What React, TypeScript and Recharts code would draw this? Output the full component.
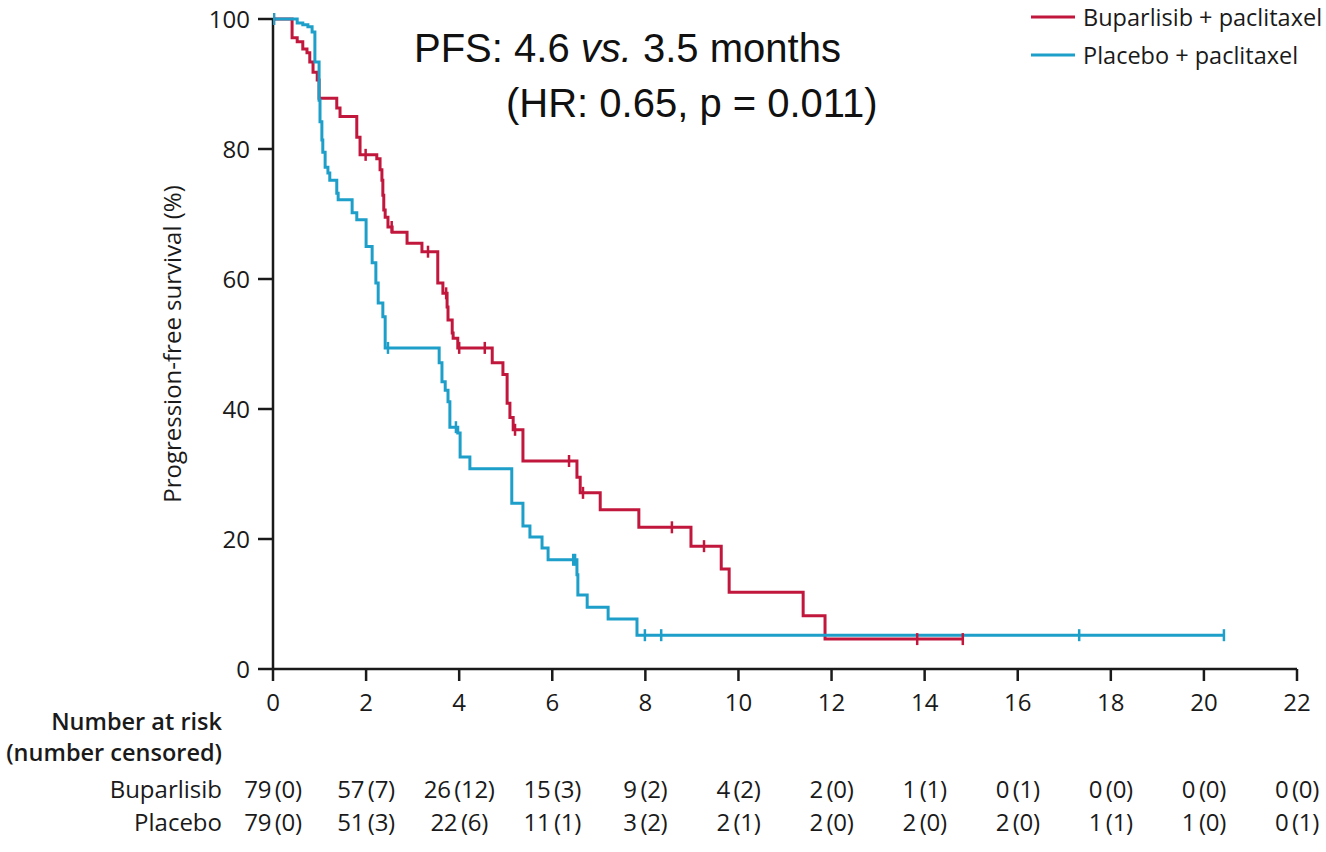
import { ComposedChart, Line, Scatter, XAxis, YAxis } from "recharts";

// full-bleed page, no scrollbars
document.documentElement.style.overflow = "hidden";
document.body.style.margin = "0";

const FONT = '"Open Sans", "Noto Sans", sans-serif';
const TITLE_FONT = '"Liberation Sans", Arial, sans-serif';
const RED = "#c2173d";
const BLUE = "#1d9fca";
const INK = "#1a1a1a";

// Kaplan-Meier steps: [months, % progression-free]
const buparlisibCurve: [number, number][] = [
  [0, 100], [0.41, 97.1], [0.52, 96.5], [0.64, 95.4], [0.73, 94.8], [0.79, 93.4],
  [0.86, 91.8], [0.95, 90.6], [0.99, 87.8], [1.37, 86.3], [1.44, 85.0], [1.8, 81.8],
  [1.87, 79.1], [2.23, 78.5], [2.3, 76.8], [2.34, 75.2], [2.36, 72.9], [2.38, 70.6],
  [2.41, 69.5], [2.47, 68.0], [2.56, 67.2], [2.88, 65.5], [3.2, 64.2], [3.54, 59.4],
  [3.65, 57.8], [3.74, 55.7], [3.76, 53.7], [3.85, 51.7], [3.87, 50.9], [3.97, 49.4],
  [4.71, 47.1], [4.94, 45.3], [5.03, 40.9], [5.09, 38.7], [5.16, 36.8], [5.37, 32.0],
  [6.53, 29.5], [6.6, 27.1], [7.03, 24.5], [7.86, 21.8], [8.98, 18.9], [9.63, 15.4],
  [9.8, 11.8], [11.39, 8.2], [11.86, 4.6], [14.82, 4.6],
];

const placeboCurve: [number, number][] = [
  [0, 100], [0.52, 99.4], [0.64, 99.1], [0.75, 98.8], [0.84, 98.0], [0.9, 93.4],
  [0.99, 87.5], [1.01, 84.2], [1.05, 81.4], [1.07, 79.5], [1.12, 77.2], [1.18, 76.3],
  [1.22, 75.2], [1.37, 73.2], [1.4, 72.2], [1.7, 70.2], [1.8, 69.1], [2.0, 65.0],
  [2.13, 62.5], [2.21, 59.4], [2.26, 56.3], [2.36, 54.2], [2.41, 49.4], [3.57, 47.1],
  [3.63, 44.2], [3.7, 42.9], [3.76, 41.1], [3.8, 37.2], [3.97, 36.3], [4.02, 32.6],
  [4.23, 30.8], [5.13, 25.5], [5.37, 22.0], [5.52, 20.3], [5.78, 18.6], [5.91, 16.8],
  [6.53, 14.5], [6.55, 11.4], [6.75, 9.5], [7.2, 7.7], [7.82, 5.2], [20.43, 5.2],
];

// censoring times (months)
const buparlisibCensored = [0.02, 1.99, 2.55, 3.33, 3.72, 4.0, 4.55, 5.2, 6.36, 6.66, 8.57, 9.26, 13.84, 14.82];
const placeboCensored = [0.02, 2.47, 3.93, 6.45, 6.49, 7.99, 8.34, 17.32, 20.43];

// number at risk table
const riskTimes = [0, 2, 4, 6, 8, 10, 12, 14, 16, 18, 20, 22];
const buparlisibAtRisk = [79, 57, 26, 15, 9, 4, 2, 1, 0, 0, 0, 0];
const buparlisibCensorCount = [0, 7, 12, 3, 2, 2, 0, 1, 1, 0, 0, 0];
const placeboAtRisk = [79, 51, 22, 11, 3, 2, 2, 2, 2, 1, 1, 0];
const placeboCensorCount = [0, 3, 6, 1, 2, 1, 0, 0, 0, 1, 0, 1];

const yTicks = [0, 20, 40, 60, 80, 100];

const series = [
  { name: "Buparlisib + paclitaxel", color: RED },
  { name: "Placebo + paclitaxel", color: BLUE },
];

const toPoints = (curve: [number, number][]) => curve.map(([t, s]) => ({ t, s }));

// survival at time t
function survivalAt(curve: [number, number][], t: number) {
  let s = curve[0][1];
  for (const [ti, si] of curve) {
    if (ti <= t) s = si;
  }
  return s;
}

const censorPoints = (curve: [number, number][], times: number[]) =>
  times.map((t) => ({ t, s: survivalAt(curve, t) }));

function CensorMark(color: string) {
  return (props: any) => (
    <line
      x1={props.cx}
      x2={props.cx}
      y1={props.cy - 6}
      y2={props.cy + 6}
      stroke={color}
      strokeWidth={2.5}
    />
  );
}

const riskLabel = (n: number, c: number) => `${n}\u2009(${c})`;

function RiskTick(props: any) {
  const { x, y, payload } = props;
  const i = riskTimes.indexOf(payload.value);
  return (
    <g fontFamily={FONT} fontSize={24} fill={INK}>
      <text x={x} y={y} dy={28} textAnchor="middle">
        {payload.value}
      </text>
      {i === 0 && (
        <g textAnchor="end">
          <text x={x - 51} y={y} dy={47} fontWeight={600} fontSize={23.5}>
            Number at risk
          </text>
          <text x={x - 51} y={y} dy={78} fontWeight={600} fontSize={23.5}>
            (number censored)
          </text>
          <text x={x - 51} y={y} dy={115}>
            Buparlisib
          </text>
          <text x={x - 51} y={y} dy={148}>
            Placebo
          </text>
        </g>
      )}
      {i >= 0 && (
        <g letterSpacing={-0.3}>
          <text x={x} y={y} dy={115} textAnchor="middle">
            {riskLabel(buparlisibAtRisk[i], buparlisibCensorCount[i])}
          </text>
          <text x={x} y={y} dy={148} textAnchor="middle">
            {riskLabel(placeboAtRisk[i], placeboCensorCount[i])}
          </text>
        </g>
      )}
    </g>
  );
}

export default function App() {
  return (
    <div style={{ position: "relative", width: 1326, height: 852, background: "#fff" }}>
      <ComposedChart width={1326} height={852} margin={{ top: 19, right: 29, bottom: 0, left: 72 }}>
        <XAxis
          dataKey="t"
          type="number"
          domain={[0, 22]}
          ticks={riskTimes}
          allowDataOverflow
          height={183}
          axisLine={{ stroke: INK, strokeWidth: 2.5 }}
          tickLine={{ stroke: INK, strokeWidth: 2.5 }}
          tickSize={12}
          tickMargin={2}
          tick={<RiskTick />}
        />
        <YAxis
          dataKey="s"
          type="number"
          domain={[0, 100]}
          ticks={yTicks}
          width={201}
          axisLine={{ stroke: INK, strokeWidth: 2.5 }}
          tickLine={{ stroke: INK, strokeWidth: 2.5 }}
          tickSize={15}
          tickMargin={8}
          tick={{ fill: INK, fontSize: 24, fontFamily: FONT }}
          label={{
            value: "Progression-free survival (%)",
            angle: -90,
            position: "center",
            fill: INK,
            fontSize: 24,
            fontFamily: FONT,
          }}
        />
        <Line
          data={toPoints(buparlisibCurve)}
          dataKey="s"
          type="stepAfter"
          stroke={RED}
          strokeWidth={3}
          dot={false}
          activeDot={false}
          isAnimationActive={false}
        />
        <Line
          data={toPoints(placeboCurve)}
          dataKey="s"
          type="stepAfter"
          stroke={BLUE}
          strokeWidth={3}
          dot={false}
          activeDot={false}
          isAnimationActive={false}
        />
        <Scatter
          data={censorPoints(buparlisibCurve, buparlisibCensored)}
          dataKey="s"
          shape={CensorMark(RED)}
          legendType="none"
          isAnimationActive={false}
        />
        <Scatter
          data={censorPoints(placeboCurve, placeboCensored)}
          dataKey="s"
          shape={CensorMark(BLUE)}
          legendType="none"
          isAnimationActive={false}
        />
      </ComposedChart>
      <svg
        width={1326}
        height={140}
        style={{ position: "absolute", left: 0, top: 0, pointerEvents: "none" }}
      >
        {series.map((s, i) => (
          <g key={s.name}>
            <line x1={1031} x2={1075} y1={17 + i * 38} y2={17 + i * 38} stroke={s.color} strokeWidth={3} />
            <text x={1083} y={26 + i * 38} fontFamily={FONT} fontSize={23.5} fill={INK}>
              {s.name}
            </text>
          </g>
        ))}
        <text x={414} y={62} fontFamily={TITLE_FONT} fontSize={40} fill="#111">
          PFS: 4.6 <tspan fontStyle="italic">vs.</tspan> 3.5 months
        </text>
        <text x={506} y={117} fontFamily={TITLE_FONT} fontSize={40} fill="#111">
          (HR: 0.65, p = 0.011)
        </text>
      </svg>
    </div>
  );
}
